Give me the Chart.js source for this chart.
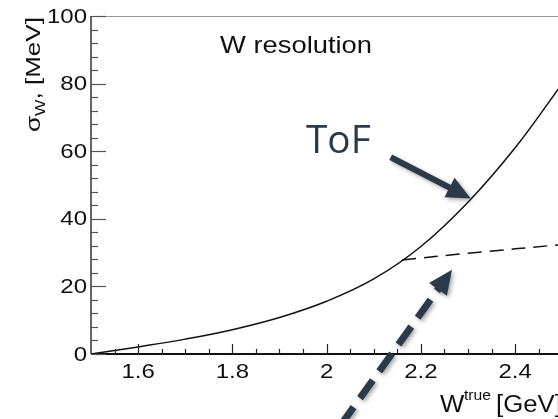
<!DOCTYPE html>
<html>
<head>
<meta charset="utf-8">
<script src="https://cdn.jsdelivr.net/npm/chart.js@4.4.0/dist/chart.umd.min.js"></script>
<style>
  html, body { margin: 0; padding: 0; background: #fff; overflow: hidden; }
  #wrap { width: 558px; height: 419px; }
</style>
</head>
<body>
<div id="wrap"><canvas id="resChart" width="558" height="419"></canvas></div>
<script>
// W resolution vs W_true
const wTrue = [1.5, 1.6, 1.7, 1.8, 1.9, 2.0, 2.1, 2.2, 2.3, 2.4, 2.5];
const sigmaToF = [0, 2.1, 4.4, 7.2, 10.8, 15.6, 22.2, 31.8, 44.9, 61.0, 80.0];
const wDashed = [2.16, 2.3, 2.5];
const sigmaDashed = [27.8, 29.8, 32.4];

const xTicks = [1.6, 1.8, 2.0, 2.2, 2.4];
const xTickLabels = ['1.6', '1.8', '2', '2.2', '2.4'];
const yTicks = [0, 20, 40, 60, 80, 100];
const yTickLabels = ['0', '20', '40', '60', '80', '100'];

const toPoints = (xs, ys) => xs.map((x, i) => ({ x, y: ys[i] }));

const stretchText = (ctx, text, x, y, sx) => {
    ctx.save();
    ctx.translate(x, y);
    ctx.scale(sx, 1);
    ctx.fillText(text, 0, 0);
    ctx.restore();
};

const arrow = (ctx, x0, y0, x1, y1, dashed) => {
    const ang = Math.atan2(y1 - y0, x1 - x0);
    const headLen = 24, headW = 11;
    const bx = x1 - headLen * Math.cos(ang), by = y1 - headLen * Math.sin(ang);
    ctx.save();
    ctx.strokeStyle = '#2b3a4a';
    ctx.fillStyle = '#2b3a4a';
    ctx.shadowColor = 'rgba(0,0,0,0.35)';
    ctx.shadowBlur = 4;
    ctx.shadowOffsetX = 2;
    ctx.shadowOffsetY = 2;
    ctx.lineWidth = dashed ? 7 : 6;
    ctx.setLineDash(dashed ? [22, 11] : []);
    ctx.beginPath();
    ctx.moveTo(x0, y0);
    ctx.lineTo(bx + 4 * Math.cos(ang), by + 4 * Math.sin(ang));
    ctx.stroke();
    ctx.setLineDash([]);
    ctx.beginPath();
    ctx.moveTo(x1, y1);
    ctx.lineTo(bx + headW * Math.sin(ang), by - headW * Math.cos(ang));
    ctx.lineTo(bx - headW * Math.sin(ang), by + headW * Math.cos(ang));
    ctx.closePath();
    ctx.fill();
    ctx.restore();
};

const rootFrame = {
    id: 'rootFrame',
    afterDatasetsDraw(chart) {
        const { ctx, chartArea: a, scales: { x, y } } = chart;
        ctx.save();
        // frame
        ctx.lineWidth = 1;
        ctx.strokeStyle = '#999';
        ctx.beginPath();
        ctx.moveTo(a.left, a.top + 0.5);
        ctx.lineTo(a.right, a.top + 0.5);
        ctx.stroke();
        ctx.lineWidth = 2;
        ctx.strokeStyle = '#666';
        ctx.beginPath();
        ctx.moveTo(a.left, a.top);
        ctx.lineTo(a.left, a.bottom);
        ctx.stroke();
        ctx.strokeStyle = '#111';
        ctx.beginPath();
        ctx.moveTo(a.left, a.bottom);
        ctx.lineTo(a.right, a.bottom);
        ctx.stroke();

        // y ticks, inward
        ctx.lineWidth = 1.2;
        ctx.strokeStyle = '#555';
        for (let v = 0; v <= 100; v += 4) {
            const py = Math.round(y.getPixelForValue(v)) + 0.5;
            const len = v % 20 === 0 ? 15 : 7;
            ctx.beginPath();
            ctx.moveTo(a.left, py);
            ctx.lineTo(a.left + len, py);
            ctx.stroke();
        }
        // x ticks, inward (minor every 0.05, major every 0.2)
        ctx.strokeStyle = '#222';
        for (let i = 1; i <= 20; i++) {
            const v = 1.5 + i * 0.05;
            if (v > x.max) break;
            const px = Math.round(x.getPixelForValue(v)) + 0.5;
            const major = (i - 2) % 4 === 0;
            ctx.beginPath();
            ctx.moveTo(px, a.bottom);
            ctx.lineTo(px, a.bottom - (major ? 10 : 5));
            ctx.stroke();
        }

        // tick labels
        ctx.fillStyle = '#111';
        ctx.font = '20px "Liberation Sans", Arial, sans-serif';
        ctx.textBaseline = 'middle';
        ctx.textAlign = 'right';
        yTicks.forEach((v, i) => stretchText(ctx, yTickLabels[i], a.left - 4, y.getPixelForValue(v) + 1, 1.2));
        ctx.textAlign = 'center';
        xTicks.forEach((v, i) => stretchText(ctx, xTickLabels[i], x.getPixelForValue(v), a.bottom + 18, 1.2));

        // axis titles
        ctx.textAlign = 'left';
        ctx.textBaseline = 'alphabetic';
        ctx.font = '23px "Liberation Sans", Arial, sans-serif';
        stretchText(ctx, 'W', 440, 412, 1.12);
        ctx.font = '14px "Liberation Sans", Arial, sans-serif';
        stretchText(ctx, 'true', 464, 400, 1.12);
        ctx.font = '23px "Liberation Sans", Arial, sans-serif';
        stretchText(ctx, '[GeV]', 496, 412, 1.12);

        ctx.save();
        ctx.translate(40, 132);
        ctx.rotate(-Math.PI / 2);
        ctx.scale(1.24, 1);
        ctx.font = '21px "Liberation Sans", Arial, sans-serif';
        ctx.fillText('\u03c3', 0, 0);
        let off = ctx.measureText('\u03c3').width;
        ctx.font = '14px "Liberation Sans", Arial, sans-serif';
        ctx.fillText('W', off, 5);
        off += ctx.measureText('W').width;
        ctx.font = '21px "Liberation Sans", Arial, sans-serif';
        ctx.fillText(', [MeV]', off, 0);
        ctx.restore();

        // title inside pad
        ctx.font = '24px "Liberation Sans", Arial, sans-serif';
        stretchText(ctx, 'W resolution', 220, 53, 1.14);

        // annotation
        ctx.fillStyle = '#2b3a4a';
        ctx.font = '38px "Open Sans", "Noto Sans", sans-serif';
        stretchText(ctx, 'ToF', 306, 153, 1.02);

        arrow(ctx, x.getPixelForValue(2.136), y.getPixelForValue(58.2),
              x.getPixelForValue(2.306), y.getPixelForValue(46.0), false);
        arrow(ctx, x.getPixelForValue(2.03), y.getPixelForValue(-21),
              x.getPixelForValue(2.266), y.getPixelForValue(24.9), true);
        ctx.restore();
    }
};

const ctx = document.getElementById('resChart').getContext('2d');
new Chart(ctx, {
    type: 'scatter',
    data: {
        datasets: [{
            label: 'ToF',
            data: toPoints(wTrue, sigmaToF),
            showLine: true,
            borderColor: '#111',
            borderWidth: 1.5,
            pointRadius: 0,
            tension: 0.4
        }, {
            label: 'dashed',
            data: toPoints(wDashed, sigmaDashed),
            showLine: true,
            borderColor: '#111',
            borderWidth: 1.5,
            borderDash: [14, 8],
            pointRadius: 0,
            tension: 0.4
        }]
    },
    options: {
        responsive: false,
        animation: false,
        layout: { padding: { left: 91, top: 16, right: 0, bottom: 65 } },
        plugins: { legend: { display: false }, tooltip: { enabled: false } },
        scales: {
            x: { type: 'linear', display: false, min: 1.5, max: 2.491 },
            y: { type: 'linear', display: false, min: 0, max: 100 }
        }
    },
    plugins: [rootFrame]
});
</script>
</body>
</html>
